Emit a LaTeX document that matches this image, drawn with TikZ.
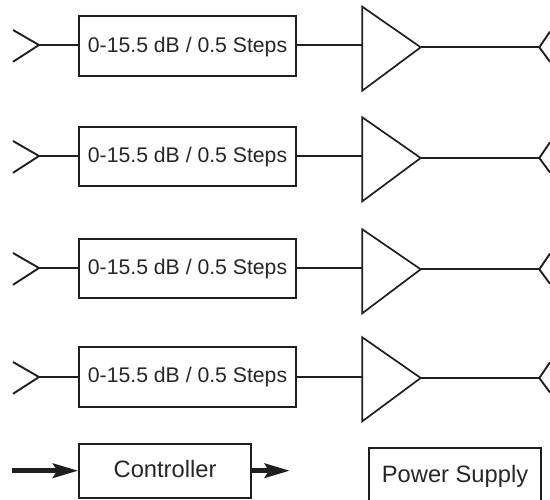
\documentclass[tikz,border=0pt]{standalone}
\usepackage{fontspec}
\setmainfont{Liberation Sans}
\usetikzlibrary{arrows.meta}
\tikzset{
  x=1pt,y=-1pt,
  wire/.style={line width=2pt,draw=black!88},
  wirethick/.style={line width=1.9pt,draw=black!88,line join=miter},
  bx/.style={draw=black!88,line width=1.8pt,inner sep=0pt,text=black!85,text depth=0pt,font=\fontsize{21.2pt}{24pt}\selectfont},
  bxbig/.style={bx,font=\fontsize{23.7pt}{26pt}\selectfont},
  tri/.style={draw=black!88,line width=1.7pt,line join=miter},
  bus/.style={line width=5.5pt,draw=black!88,-{Stealth[length=25pt,width=14pt,inset=4pt]}}
}
\begin{document}
\begin{tikzpicture}
\useasboundingbox (0,0) rectangle (550,500);
\foreach \n/\boxt/\boxb/\ly/\tt/\ay/\th in {1/15.3/75.3/45/6.7/47.3/12.8,2/126/185.5/156/117.3/158/12,3/238/297.5/268/229.3/269.3/11.2,4/346.5/406/377/337.3/378/11}{
  \node[bx,anchor=north west,minimum width=217.3pt,minimum height=\boxb pt-\boxt pt,text height=\th pt] (box\n) at (78,\boxt) {0-15.5 dB / 0.5 Steps};
  \coordinate (intip\n) at (39,\ly);
  \coordinate (ina\n) at (13,\ly-15);
  \coordinate (inb\n) at (13,\ly+16.8);
  \draw[wirethick] (ina\n) -- (intip\n) -- (inb\n);
  \draw[wire] (intip\n) -- (box\n.west |- intip\n);
  \coordinate (triin\n) at (362.3,\ly);
  \coordinate (tria\n) at (362.3,\tt);
  \coordinate (trib\n) at (362.3,\tt+84);
  \coordinate (apex\n) at (420.7,\ay);
  \draw[tri] (tria\n) -- (apex\n) -- (trib\n) -- cycle;
  \draw[wire] (box\n.east |- triin\n) -- (triin\n);
  \coordinate (outtip\n) at (539.3,\ay);
  \draw[wire] (apex\n) -- (outtip\n);
  \coordinate (outa\n) at (550,\ay-15.7);
  \coordinate (outb\n) at (550,\ay+14.5);
  \draw[wirethick] (outa\n) -- (outtip\n) -- (outb\n);
}
\node[bxbig,anchor=north west,minimum width=171.7pt,minimum height=53.4pt,text height=13.4pt] (ctrl) at (78.3,443.3) {Controller};
\node[bxbig,anchor=north west,minimum width=171.7pt,minimum height=55pt,text height=13.8pt] (psu) at (368.3,447.3) {Power Supply};
\coordinate (cin) at (12,470.7);
\coordinate (cout) at (290,470.7);
\draw[bus] (cin) -- (ctrl.west |- cin);
\draw[bus] (ctrl.east |- cout) -- (cout);
\end{tikzpicture}
\end{document}
